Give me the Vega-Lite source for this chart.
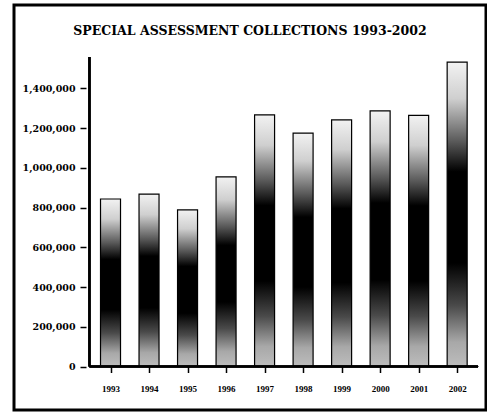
{
  "$schema": "https://vega.github.io/schema/vega-lite/v6.json",
  "autosize": {"type": "none"},
  "padding": {"left": 14, "top": 5, "right": 1, "bottom": 3},
  "width": 472,
  "height": 405,
  "background": "white",
  "title": {
    "text": "SPECIAL ASSESSMENT COLLECTIONS 1993-2002",
    "font": "DejaVu Serif",
    "fontSize": 12.5,
    "fontWeight": "bold",
    "color": "black",
    "anchor": "middle",
    "baseline": "alphabetic",
    "offset": -42.5
  },
  "config": {
    "view": {"stroke": "black", "strokeWidth": 3},
    "axis": {"grid": false, "domain": false, "tickColor": "black", "labelColor": "black", "labelFontWeight": "bold"}
  },
  "data": {
    "values": [
      {"year": 1993, "amount": 843000},
      {"year": 1994, "amount": 868000},
      {"year": 1995, "amount": 788000},
      {"year": 1996, "amount": 954000},
      {"year": 1997, "amount": 1266000},
      {"year": 1998, "amount": 1175000},
      {"year": 1999, "amount": 1241000},
      {"year": 2000, "amount": 1286000},
      {"year": 2001, "amount": 1264000},
      {"year": 2002, "amount": 1532000}
    ]
  },
  "resolve": {"axis": {"x": "independent", "y": "independent"}},
  "layer": [
    {
      "mark": {
        "type": "bar",
        "width": 20,
        "stroke": "black",
        "strokeWidth": 1.2,
        "fill": {
          "gradient": "linear",
          "x1": 0, "y1": 0, "x2": 0, "y2": 1,
          "stops": [
            {"offset": 0, "color": "#f2f2f2"},
            {"offset": 0.12, "color": "#cfcfcf"},
            {"offset": 0.26, "color": "#5a5a5a"},
            {"offset": 0.36, "color": "#000000"},
            {"offset": 0.66, "color": "#000000"},
            {"offset": 0.8, "color": "#4a4a4a"},
            {"offset": 0.92, "color": "#a8a8a8"},
            {"offset": 1, "color": "#bdbdbd"}
          ]
        }
      },
      "encoding": {
        "x": {
          "field": "year",
          "type": "quantitative",
          "title": null,
          "scale": {"domain": [1990.624, 2002.619], "nice": false, "zero": false},
          "axis": {
            "values": [1993, 1994, 1995, 1996, 1997, 1998, 1999, 2000, 2001, 2002],
            "format": "d",
            "title": null,
            "offset": -43.5,
            "tickSize": 6,
            "tickWidth": 1.5,
            "labelPadding": 12,
            "labelColor": "black",
            "labelFont": "Liberation Serif",
            "labelFontSize": 9
          }
        },
        "y": {
          "field": "amount",
          "type": "quantitative",
          "title": null,
          "scale": {"domain": [-218923, 1819326], "nice": false, "zero": false},
          "axis": {
            "values": [0, 200000, 400000, 600000, 800000, 1000000, 1200000, 1400000],
            "format": ",d",
            "title": null,
            "offset": -72,
            "tickSize": 6,
            "tickWidth": 1.5,
            "labelPadding": 5,
            "labelColor": "black",
            "labelFont": "DejaVu Serif",
            "labelFontSize": 9.5
          }
        },
        "y2": {"datum": 0}
      }
    },
    {
      "mark": {"type": "rule", "color": "black", "strokeWidth": 1.5},
      "encoding": {
        "x": {"datum": 1992.454, "type": "quantitative", "axis": null},
        "y": {"datum": 0, "type": "quantitative", "axis": null},
        "y2": {"datum": 1557000}
      }
    },
    {
      "mark": {"type": "rule", "color": "black", "strokeWidth": 1.5},
      "encoding": {
        "x": {"datum": 1992.454, "type": "quantitative", "axis": null},
        "x2": {"datum": 2002.543},
        "y": {"datum": 0, "type": "quantitative", "axis": null}
      }
    }
  ]
}
